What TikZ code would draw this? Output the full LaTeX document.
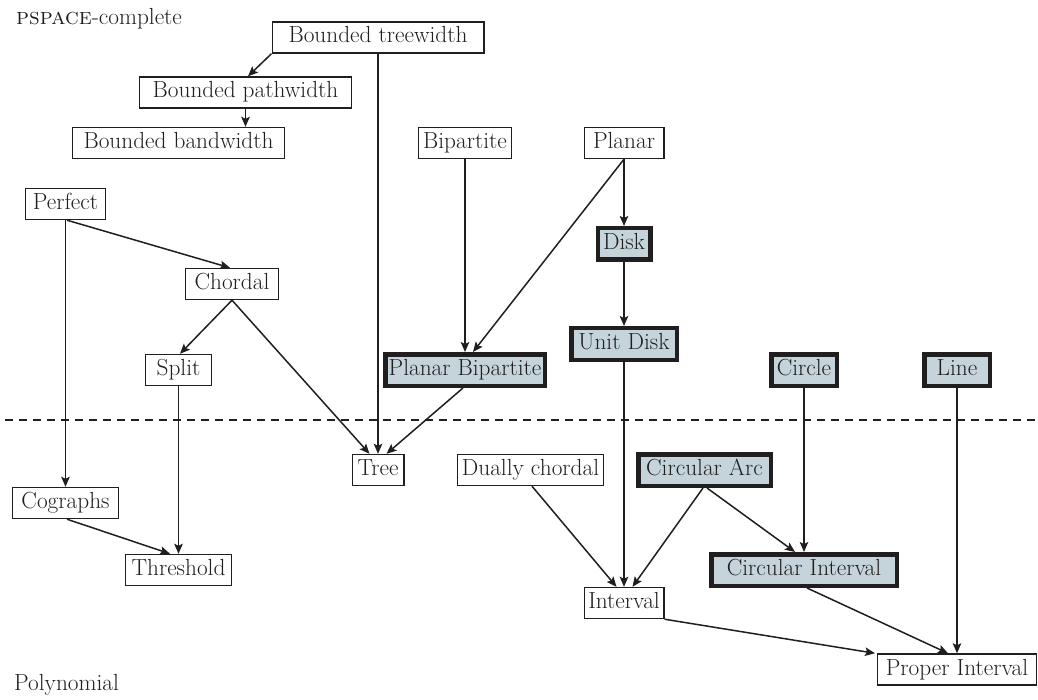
\documentclass[tikz,border=0pt]{standalone}
\usepackage{fontspec}
\usetikzlibrary{arrows.meta,calc}
\definecolor{fillc}{RGB}{196,212,218}
\definecolor{ink}{RGB}{32,30,31}
\begin{document}
\begin{tikzpicture}[x=1pt,y=-1pt,
  every node/.style={font=\fontsize{23.3}{26}\selectfont, text=ink},
  box/.style={draw=ink, line width=1.4pt, inner xsep=1pt, inner ysep=0pt,
    minimum height=31pt, text height=15.5pt, text depth=4.5pt},
  hard/.style={draw=ink, fill=fillc, line width=4.5pt, inner xsep=1pt, inner ysep=0pt,
    minimum height=31.5pt, text height=15.5pt, text depth=4.5pt},
  arr/.style={draw=ink, line width=1.5pt, -{Stealth[length=10pt,width=8.5pt,inset=2pt]}},
  sep/.style={draw=ink, line width=2.2pt, dash pattern=on 8pt off 6pt}
]
\useasboundingbox (0,0) rectangle (1038,700);

% labels
\node[anchor=base west, inner sep=0pt] (ps) at (16,25) {\textsc{pspace}-complete};
\node[anchor=base west, inner sep=0pt] (poly) at (14,690) {Polynomial};

% thin boxes
\node[box, minimum width=211.6pt] (btw) at (378,37.5) {Bounded treewidth};
\node[box, minimum width=211.6pt] (bpw) at (245.5,92.5) {Bounded pathwidth};
\node[box, minimum width=211.6pt] (bbw) at (178.5,143) {Bounded bandwidth};
\node[box, minimum width=92.6pt] (bip) at (465,143) {Bipartite};
\node[box, minimum width=79.6pt] (planar) at (624,143) {Planar};
\node[box, minimum width=79.6pt] (perfect) at (65.5,204) {Perfect};
\node[box, minimum width=92.6pt] (chordal) at (232,284) {Chordal};
\node[box, minimum width=65.6pt] (split) at (178.5,370) {Split};
\node[box, minimum width=51.6pt] (tree) at (378,470) {Tree};
\node[box, minimum width=145.6pt] (dually) at (530.5,470) {Dually chordal};
\node[box, minimum width=105.6pt] (cog) at (65.5,503) {Cographs};
\node[box, minimum width=105.6pt] (thr) at (178.5,570) {Threshold};
\node[box, minimum width=79.6pt] (int) at (624,603) {Interval};
\node[box, minimum width=158.6pt] (pint) at (957,669.5) {Proper Interval};

% thick shaded boxes
\node[hard, minimum width=52.5pt] (disk) at (624,244) {Disk};
\node[hard, minimum width=105.5pt] (ud) at (624,344) {Unit Disk};
\node[hard, minimum width=159.5pt] (pb) at (465,370) {Planar Bipartite};
\node[hard, minimum width=65.5pt] (circle) at (804,370) {Circle};
\node[hard, minimum width=65.5pt] (line) at (957,370) {Line};
\node[hard, minimum width=132.5pt] (carc) at (704.5,470) {Circular Arc};
\node[hard, minimum width=185.5pt] (cint) at (804,570) {Circular Interval};

% separator
\draw[sep] (5,420) -- (1038,420);

% connectors
\draw[arr] (btw.south west) -- ([xshift=2.5pt]bpw.north);
\draw[arr] (btw.south) -- (tree.north);
\draw[arr] (bpw.south) -- (bpw.south |- bbw.north);
\draw[arr] (bip.south) -- (pb.north);
\draw[arr] (planar.south) -- ([xshift=8pt]pb.north);
\draw[arr] (planar.south) -- (disk.north);
\draw[arr] (disk.south) -- (ud.north);
\draw[arr] ([xshift=1.5pt]perfect.south) -- ([xshift=-2pt]chordal.north);
\draw[arr] (perfect.south) -- (perfect.south |- cog.north);
\draw[arr] (chordal.south) -- ([xshift=1.5pt]split.north);
\draw[arr] (chordal.south) -- ([xshift=-8.5pt]tree.north);
\draw[arr] (split.south) -- (split.south |- thr.north);
\draw[arr] ([xshift=-2pt]pb.south) -- ([xshift=8.5pt]tree.north);
\draw[arr] (ud.south) -- (ud.south |- int.north);
\draw[arr] (circle.south) -- (cint.north);
\draw[arr] (line.south) -- (line.south |- pint.north);
\draw[arr] ([xshift=1.5pt]dually.south) -- ([xshift=-7.5pt]int.north);
\draw[arr] ([xshift=-1.5pt]carc.south) -- ([xshift=8.5pt]int.north);
\draw[arr] ([xshift=2.5pt]carc.south) -- ([xshift=-9pt]cint.north);
\draw[arr] ([xshift=1.5pt]cog.south) -- ([xshift=-8.5pt]thr.north);
\draw[arr] (int.south east) -- ([xshift=-2pt]pint.north west);
\draw[arr] ([xshift=3pt]cint.south) -- ([xshift=-9pt]pint.north);
\end{tikzpicture}
\end{document}
